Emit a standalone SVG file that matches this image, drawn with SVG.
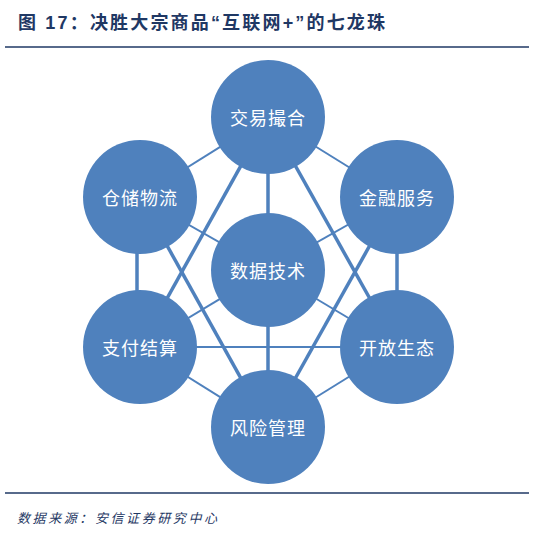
<svg xmlns="http://www.w3.org/2000/svg" width="536" height="541" viewBox="0 0 536 541">
<style>
.thin{stroke:#4F81BD;stroke-width:2;fill:none}
.thick{stroke:#4F81BD;stroke-width:3.5;fill:none}
.node circle{fill:#4F81BD}
.node text{fill:#fff;font-family:"Noto Sans CJK SC","Noto Sans CJK JP",sans-serif;font-size:18px;text-anchor:middle;dominant-baseline:central;letter-spacing:1px}
.title{fill:#1F3864;font-family:"Liberation Sans","Noto Sans CJK SC",sans-serif;font-size:18px;font-weight:bold}
.src{fill:#1F3864;font-family:"Noto Sans CJK SC",sans-serif;font-size:13px;font-style:italic}
.rule{stroke:#1F3864;stroke-width:1.5}
</style>
<rect width="536" height="541" fill="#fff"/>
<text class="title" x="18" y="29" textLength="367" lengthAdjust="spacing">图 17：决胜大宗商品“互联网+”的七龙珠</text>
<line class="rule" x1="5" y1="47" x2="529" y2="47"/>
<g id="connectors">
<line class="thin" x1="268" y1="117" x2="140" y2="197"/>
<line class="thin" x1="268" y1="117" x2="397" y2="197"/>
<line class="thin" x1="140" y1="347" x2="268" y2="427"/>
<line class="thin" x1="397" y1="347" x2="268" y2="427"/>
<line class="thin" x1="268" y1="270" x2="140" y2="197"/>
<line class="thin" x1="268" y1="270" x2="397" y2="197"/>
<line class="thin" x1="268" y1="270" x2="140" y2="347"/>
<line class="thin" x1="268" y1="270" x2="397" y2="347"/>
<line class="thin" x1="140" y1="347" x2="397" y2="347"/>
<line class="thick" x1="268" y1="117" x2="268" y2="427"/>
<line class="thick" x1="137" y1="197" x2="137" y2="347"/>
<line class="thick" x1="397" y1="197" x2="397" y2="347"/>
<line class="thick" x1="268" y1="117" x2="140" y2="347"/>
<line class="thick" x1="268" y1="117" x2="397" y2="347"/>
<line class="thick" x1="140" y1="197" x2="268" y2="427"/>
<line class="thick" x1="397" y1="197" x2="268" y2="427"/>
</g>
<g id="node-jiaoyi" class="node"><circle cx="268" cy="117" r="57"/><text x="268" y="117">交易撮合</text></g>
<g id="node-cangchu" class="node"><circle cx="140" cy="197" r="57"/><text x="140" y="197">仓储物流</text></g>
<g id="node-jinrong" class="node"><circle cx="397" cy="197" r="57"/><text x="397" y="197">金融服务</text></g>
<g id="node-shuju" class="node"><circle cx="268" cy="270" r="57"/><text x="268" y="270">数据技术</text></g>
<g id="node-zhifu" class="node"><circle cx="140" cy="347" r="57"/><text x="140" y="347">支付结算</text></g>
<g id="node-kaifang" class="node"><circle cx="397" cy="347" r="57"/><text x="397" y="347">开放生态</text></g>
<g id="node-fengxian" class="node"><circle cx="268" cy="427" r="57"/><text x="268" y="427">风险管理</text></g>
<line class="rule" x1="5" y1="493" x2="529" y2="493"/>
<text class="src" x="17" y="523" textLength="200">数据来源：安信证券研究中心</text>
</svg>
